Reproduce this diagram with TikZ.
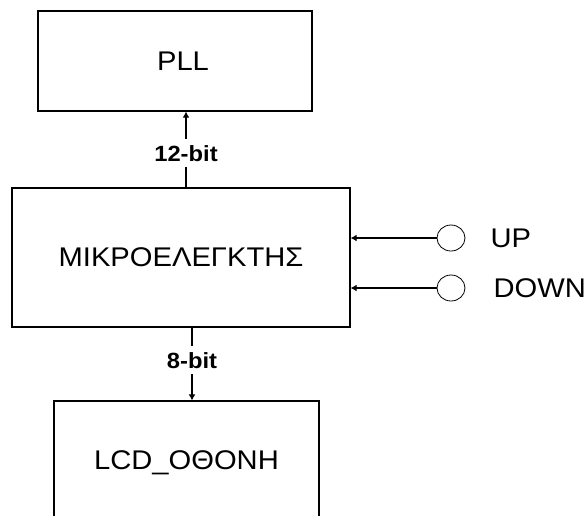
\documentclass[tikz,border=0pt]{standalone}
\usepackage{fontspec}
\newfontfamily\blockfont[FakeStretch=1.08]{Liberation Sans}
\usetikzlibrary{arrows.meta,positioning,shapes.geometric}

\begin{document}
\begin{tikzpicture}[x=1pt, y=-1pt, >={Latex[length=6pt,width=7pt]},
  block/.style={draw, rectangle, line width=1.3pt, inner sep=0pt,
    font=\blockfont\fontsize{27}{30}\selectfont},
  bitlbl/.style={fill=white, inner xsep=2pt, inner ysep=6pt,
    font=\blockfont\bfseries\fontsize{22}{24}\selectfont},
  switch/.style={draw, ellipse, line width=0.8pt, minimum width=28pt,
    minimum height=26pt, inner sep=0pt},
  swlbl/.style={inner sep=0pt, font=\blockfont\fontsize{27}{30}\selectfont},
  sig/.style={line width=1.2pt, ->}
]
\useasboundingbox (0,0) rectangle (588,515);
\clip (0,0) rectangle (588,515);

% blocks
\node[block, minimum width=274pt, minimum height=100pt] (pll) at (175,61) {\hspace*{16pt}PLL};
\node[block, minimum width=338pt, minimum height=139pt] (mcu) at (181,257.5) {ΜΙΚΡΟΕΛΕΓΚΤΗΣ};
\node[block, minimum width=265pt, minimum height=124pt] (lcd) at (186.5,463) {LCD\_ΟΘΟΝΗ};

% push buttons
\node[switch] (up) at (451,238) {};
\node[switch] (down) at (451,288) {};
\node[swlbl, right=25pt of up] (uplbl) {UP};
\node[swlbl, right=28pt of down] (downlbl) {DOWN};

\draw[sig] (up.west) -- (up.west -| mcu.east);
\draw[sig] (down.west) -- (down.west -| mcu.east);

% buses
\draw[sig] ([xshift=5pt]mcu.north) -- node[bitlbl, pos=0.45] {12-bit}
  ([xshift=5pt]mcu.north |- pll.south);
\draw[sig] ([xshift=11pt]mcu.south) -- node[bitlbl, pos=0.45] {8-bit}
  ([xshift=11pt]mcu.south |- lcd.north);
\end{tikzpicture}
\end{document}
